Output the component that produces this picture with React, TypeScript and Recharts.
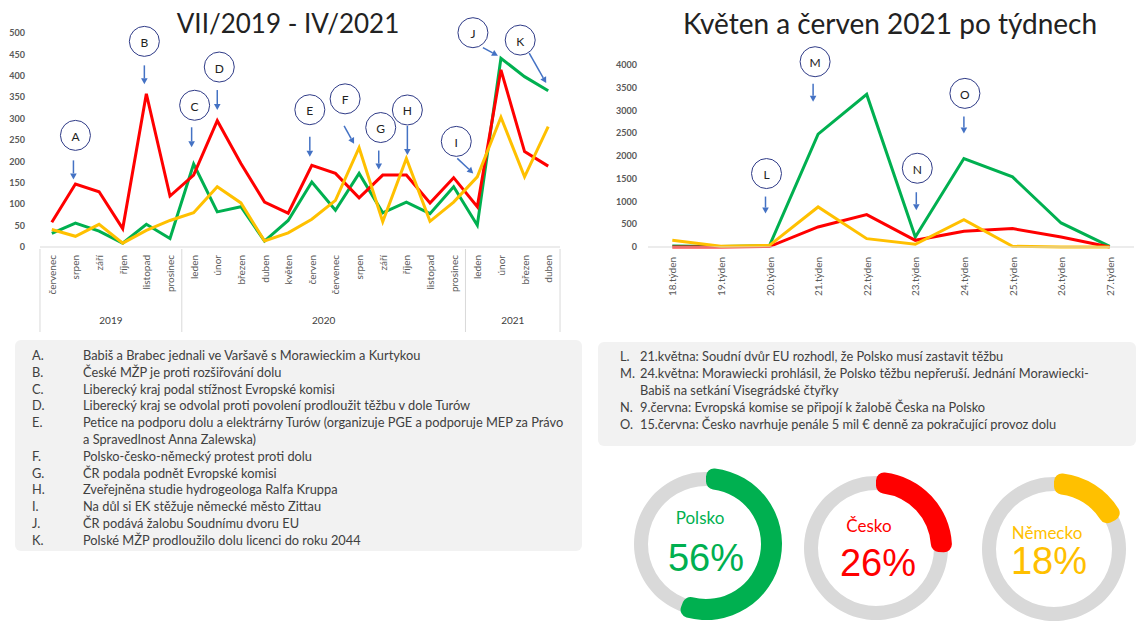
import React from 'react';
import { LineChart, Line, XAxis, YAxis, ReferenceDot, PieChart, Pie, Cell } from 'recharts';

// monthly counts VII/2019 - IV/2021
const months = [
  'červenec', 'srpen', 'září', 'říjen', 'listopad', 'prosinec',
  'leden', 'únor', 'březen', 'duben', 'květen', 'červen', 'červenec', 'srpen', 'září', 'říjen', 'listopad', 'prosinec',
  'leden', 'únor', 'březen', 'duben',
];
const yearGroups = [
  { year: '2019', count: 6 },
  { year: '2020', count: 12 },
  { year: '2021', count: 4 },
];
const polskoMonthly = [32, 56, 37, 9, 53, 20, 194, 82, 94, 14, 62, 152, 86, 172, 80, 105, 78, 141, 51, 441, 398, 365];
const ceskoMonthly = [58, 147, 129, 43, 358, 119, 168, 295, 195, 105, 79, 191, 172, 115, 168, 168, 103, 162, 94, 414, 223, 189];
const nemeckoMonthly = [41, 25, 53, 9, 39, 62, 80, 141, 103, 14, 33, 65, 109, 232, 59, 207, 60, 105, 164, 303, 164, 281];
const monthlyTicks = [0, 50, 100, 150, 200, 250, 300, 350, 400, 450, 500];

// weekly counts May-June 2021
const weeks = ['18.týden', '19.týden', '20.týden', '21.týden', '22.týden', '23.týden', '24.týden', '25.týden', '26.týden', '27.týden'];
const polskoWeekly = [20, 10, 30, 2480, 3354, 220, 1945, 1541, 528, 15];
const ceskoWeekly = [0, 0, 10, 440, 712, 147, 345, 404, 220, 0];
const nemeckoWeekly = [147, 15, 37, 880, 183, 59, 602, 15, 0, 0];
const weeklyTicks = [0, 500, 1000, 1500, 2000, 2500, 3000, 3500, 4000];

// overall share
const countries = ['Polsko', 'Česko', 'Německo'];
const shares = [56, 26, 18];

const monthlyEvents = [
  ['A.', 'Babiš a Brabec jednali ve Varšavě s Morawieckim a Kurtykou'],
  ['B.', 'České MŽP je proti rozšiřování dolu'],
  ['C.', 'Liberecký kraj podal stížnost Evropské komisi'],
  ['D.', 'Liberecký kraj se odvolal proti povolení prodloužit těžbu v dole Turów'],
  ['E.', 'Petice na podporu dolu a elektrárny Turów (organizuje PGE a podporuje MEP za Právo'],
  ['', 'a Spravedlnost Anna Zalewska)'],
  ['F.', 'Polsko-česko-německý protest proti dolu'],
  ['G.', 'ČR podala podnět Evropské komisi'],
  ['H.', 'Zveřejněna studie hydrogeologa Ralfa Kruppa'],
  ['I.', 'Na důl si EK stěžuje německé město Zittau'],
  ['J.', 'ČR podává žalobu Soudnímu dvoru EU'],
  ['K.', 'Polské MŽP prodloužilo dolu licenci do roku 2044'],
];
const weeklyEvents = [
  ['L.', '21.května: Soudní dvůr EU rozhodl, že Polsko musí zastavit těžbu'],
  ['M.', '24.května: Morawiecki prohlásil, že Polsko těžbu nepřeruší. Jednání Morawiecki-'],
  ['', 'Babiš na setkání Visegrádské čtyřky'],
  ['N.', '9.června: Evropská komise se připojí k žalobě Česka na Polsko'],
  ['O.', '15.června: Česko navrhuje penále 5 mil € denně za pokračující provoz dolu'],
];

// event markers: category index, value the arrow points at, and pixel offsets of arrow/circle
const monthlyMarks = [
  { letter: 'A', at: 1, value: 158, dx: -2, sx: 0, sy: -19, ox: 2, oy: -44 },
  { letter: 'B', at: 4, value: 380, dx: -2, sx: 0, sy: -19, ox: 0, oy: -43 },
  { letter: 'C', at: 6, value: 233, dx: -2, sx: 0, sy: -20, ox: 3, oy: -42 },
  { letter: 'D', at: 7, value: 320, dx: 0, sx: 0, sy: -20, ox: 2, oy: -43 },
  { letter: 'E', at: 11, value: 211, dx: -2, sx: 0, sy: -20, ox: 0, oy: -47 },
  { letter: 'F', at: 13, value: 241, dx: -5, sx: -10, sy: -18, ox: -9, oy: -45 },
  { letter: 'G', at: 14, value: 181, dx: -4, sx: 0, sy: -19, ox: 2, oy: -42 },
  { letter: 'H', at: 15, value: 215, dx: 1, sx: 0, sy: -29, ox: 0, oy: -45 },
  { letter: 'I', at: 18, value: 172, dx: -4, sx: -16, sy: -15, ox: -17, oy: -32 },
  { letter: 'J', at: 19, value: 447, dx: -3, sx: -15, sy: -8, ox: -25, oy: -23 },
  { letter: 'K', at: 21, value: 383, dx: -2, sx: -17, sy: -30, ox: -26, oy: -43 },
];
const weeklyMarks = [
  { letter: 'L', at: 2, value: 735, dx: -4, sx: 0, sy: -17, ox: 1, oy: -40 },
  { letter: 'M', at: 3, value: 3193, dx: -5, sx: 0, sy: -18, ox: 2, oy: -40 },
  { letter: 'N', at: 5, value: 808, dx: 1, sx: 0, sy: -18, ox: 1, oy: -42 },
  { letter: 'O', at: 6, value: 2497, dx: 0, sx: 0, sy: -17, ox: 1, oy: -40 },
];

const GREEN = '#00B050';
const RED = '#FF0000';
const YELLOW = '#FFC000';
const shareColors = [GREEN, RED, YELLOW];
const AXIS_TEXT = '#595959';
const BAND = 23.64;

const monthlyData = months.map((m, i) => ({
  key: String(i),
  polsko: polskoMonthly[i],
  cesko: ceskoMonthly[i],
  nemecko: nemeckoMonthly[i],
}));
const weeklyData = weeks.map((w, i) => ({
  week: w,
  polsko: polskoWeekly[i],
  cesko: ceskoWeekly[i],
  nemecko: nemeckoWeekly[i],
}));

const Marker = (props: any) => {
  const { cx, cy, letter, dx, sx, sy, ox, oy } = props;
  if (cx == null || cy == null) return null;
  const tx = cx + dx;
  const ty = cy;
  const x1 = tx + sx;
  const y1 = ty + sy;
  const ang = Math.atan2(ty - y1, tx - x1);
  const hl = 6;
  const hw = 3.3;
  const bx = tx - hl * Math.cos(ang);
  const by = ty - hl * Math.sin(ang);
  const p1 = `${bx + hw * Math.sin(ang)},${by - hw * Math.cos(ang)}`;
  const p2 = `${bx - hw * Math.sin(ang)},${by + hw * Math.cos(ang)}`;
  return (
    <g>
      <line x1={x1} y1={y1} x2={bx} y2={by} stroke="#4472C4" strokeWidth={1.5} />
      <polygon points={`${tx},${ty} ${p1} ${p2}`} fill="#4472C4" />
      <circle cx={tx + ox} cy={ty + oy} r={15} fill="none" stroke="#2F3B87" strokeWidth={1} />
      <text x={tx + ox} y={ty + oy + 1} textAnchor="middle" dominantBaseline="central" fontSize={12} fill="#222">
        {letter}
      </text>
    </g>
  );
};

const MonthTick = (props: any) => {
  const { x, y, payload } = props;
  const i = Number(payload.value);
  let start = 0;
  const extras: React.ReactNode[] = [];
  yearGroups.forEach((g, gi) => {
    if (i === start) {
      extras.push(<line key={`s${gi}`} x1={x - BAND / 2} y1={y} x2={x - BAND / 2} y2={y + 83} stroke="#D9D9D9" />);
    }
    if (i === start + g.count - 1 && gi === yearGroups.length - 1) {
      extras.push(<line key={`e${gi}`} x1={x + BAND / 2} y1={y} x2={x + BAND / 2} y2={y + 83} stroke="#D9D9D9" />);
    }
    if (i === start + Math.floor((g.count - 1) / 2)) {
      const lx = g.count % 2 === 0 ? x + BAND / 2 : x;
      extras.push(
        <text key={`y${gi}`} x={lx} y={y + 71} textAnchor="middle" dominantBaseline="central" fontSize={10} fill="#404040">
          {g.year}
        </text>
      );
    }
    start += g.count;
  });
  return (
    <g>
      <text
        transform={`translate(${x},${y + 6}) rotate(-90)`}
        textAnchor="end"
        dominantBaseline="central"
        fontSize={10}
        fill={AXIS_TEXT}
      >
        {months[i]}
      </text>
      {extras}
    </g>
  );
};

const WeekTick = (props: any) => {
  const { x, y, payload } = props;
  return (
    <text
      transform={`translate(${x},${y + 8}) rotate(-90)`}
      textAnchor="end"
      dominantBaseline="central"
      fontSize={10}
      fill={AXIS_TEXT}
    >
      {payload.value}
    </text>
  );
};

const yTickStyle = { fontSize: 9, fontWeight: 700, fill: AXIS_TEXT };

const donutCenters = [
  { cx: 111, cy: 99 },
  { cx: 281, cy: 103 },
  { cx: 459, cy: 104 },
];
const donutText = [
  { lx: 700, ly: 517, vx: 706, vy: 558 },
  { lx: 869, ly: 525, vx: 878, vy: 563 },
  { lx: 1047, ly: 532, vx: 1049, vy: 561 },
];

const EventBox = ({ rows, left, top, width, height, letterX, textX, lineH, firstY, fontSize }: any) => (
  <div
    style={{
      position: 'absolute',
      left,
      top,
      width,
      height,
      background: '#F2F2F2',
      borderRadius: 6,
    }}
  >
    {rows.map((r: string[], i: number) => (
      <React.Fragment key={i}>
        <div style={{ position: 'absolute', left: letterX, top: firstY + i * lineH - 8, lineHeight: '16px', fontSize, color: '#404040' }}>
          {r[0]}
        </div>
        <div style={{ position: 'absolute', left: textX, top: firstY + i * lineH - 8, lineHeight: '16px', fontSize, color: '#404040', whiteSpace: 'nowrap' }}>
          {r[1]}
        </div>
      </React.Fragment>
    ))}
  </div>
);

export default function App() {
  return (
    <div
      style={{
        position: 'absolute',
        left: 0,
        top: 0,
        width: 1136,
        height: 621,
        background: '#fff',
        overflow: 'hidden',
        fontFamily: 'Lato, sans-serif',
      }}
    >
      <div style={{ position: 'absolute', left: 88, width: 400, top: 6, textAlign: 'center', fontSize: 26, lineHeight: '34px', color: '#222' }}>
        VII/2019 - IV/2021
      </div>
      <div style={{ position: 'absolute', left: 640, width: 500, top: 5, textAlign: 'center', fontSize: 28, lineHeight: '36px', color: '#222' }}>
        Květen a červen 2021 po týdnech
      </div>

      <div style={{ position: 'absolute', left: 0, top: 0 }}>
        <LineChart width={580} height={340} data={monthlyData} margin={{ top: 33, right: 20, bottom: 3, left: 0 }}>
          <XAxis
            dataKey="key"
            scale="point"
            padding={{ left: 11.8, right: 11.8 }}
            interval={0}
            height={90}
            tickLine={false}
            tickSize={0}
            axisLine={{ stroke: '#D9D9D9' }}
            tick={<MonthTick />}
          />
          <YAxis
            domain={[0, 500]}
            ticks={monthlyTicks}
            width={40}
            axisLine={false}
            tickLine={false}
            tickSize={0}
            tickMargin={15}
            tick={yTickStyle}
          />
          <Line dataKey="polsko" name="Polsko" stroke={GREEN} strokeWidth={3} dot={false} isAnimationActive={false} />
          <Line dataKey="cesko" name="Česko" stroke={RED} strokeWidth={3} dot={false} isAnimationActive={false} />
          <Line dataKey="nemecko" name="Německo" stroke={YELLOW} strokeWidth={3} dot={false} isAnimationActive={false} />
          {monthlyMarks.map((m) => (
            <ReferenceDot
              key={m.letter}
              x={String(m.at)}
              y={m.value}
              r={0}
              ifOverflow="visible"
              shape={(p: any) => <Marker {...p} {...m} />}
            />
          ))}
        </LineChart>
      </div>

      <div style={{ position: 'absolute', left: 590, top: 0 }}>
        <LineChart width={546} height={340} data={weeklyData} margin={{ top: 65, right: 2, bottom: 33, left: 0 }}>
          <XAxis
            dataKey="week"
            scale="point"
            padding={{ left: 24.3, right: 24.3 }}
            interval={0}
            height={60}
            tickLine={false}
            tickSize={0}
            axisLine={{ stroke: '#D9D9D9' }}
            tick={<WeekTick />}
          />
          <YAxis
            domain={[0, 4000]}
            ticks={weeklyTicks}
            width={58}
            axisLine={false}
            tickLine={false}
            tickSize={0}
            tickMargin={11}
            tick={yTickStyle}
          />
          <Line dataKey="polsko" name="Polsko" stroke={GREEN} strokeWidth={3} dot={false} isAnimationActive={false} />
          <Line dataKey="cesko" name="Česko" stroke={RED} strokeWidth={3} dot={false} isAnimationActive={false} />
          <Line dataKey="nemecko" name="Německo" stroke={YELLOW} strokeWidth={3} dot={false} isAnimationActive={false} />
          {weeklyMarks.map((m) => (
            <ReferenceDot
              key={m.letter}
              x={weeks[m.at]}
              y={m.value}
              r={0}
              ifOverflow="visible"
              shape={(p: any) => <Marker {...p} {...m} />}
            />
          ))}
        </LineChart>
      </div>

      <EventBox rows={monthlyEvents} left={15} top={340} width={567} height={211} letterX={17} textX={68} lineH={16.8} firstY={15} fontSize={12.8} />
      <EventBox rows={weeklyEvents} left={598} top={342} width={538} height={104} letterX={22} textX={42} lineH={17} firstY={14} fontSize={12.8} />

      <div style={{ position: 'absolute', left: 590, top: 440 }}>
        <PieChart width={546} height={181}>
          {countries.map((c, i) => (
            <Pie
              key={`bg-${c}`}
              data={[{ name: c, value: 1 }]}
              dataKey="value"
              cx={donutCenters[i].cx}
              cy={donutCenters[i].cy}
              innerRadius={58}
              outerRadius={72}
              startAngle={90}
              endAngle={-270}
              fill="#D9D9D9"
              stroke="none"
              isAnimationActive={false}
            />
          ))}
          {countries.map((c, i) => (
            <Pie
              key={`fg-${c}`}
              data={[
                { name: c, value: shares[i] },
                { name: 'rest', value: 100 - shares[i] },
              ]}
              dataKey="value"
              cx={donutCenters[i].cx}
              cy={donutCenters[i].cy}
              innerRadius={55}
              outerRadius={76}
              startAngle={90}
              endAngle={-270}
              cornerRadius={8}
              stroke="none"
              isAnimationActive={false}
            >
              <Cell fill={shareColors[i]} />
              <Cell fill="transparent" />
            </Pie>
          ))}
        </PieChart>
      </div>

      {countries.map((c, i) => (
        <React.Fragment key={`t-${c}`}>
          <div
            style={{
              position: 'absolute',
              left: donutText[i].lx,
              top: donutText[i].ly,
              transform: 'translate(-50%, -50%)',
              fontSize: 17,
              lineHeight: 1,
              color: shareColors[i],
              whiteSpace: 'nowrap',
            }}
          >
            {c}
          </div>
          <div
            style={{
              position: 'absolute',
              left: donutText[i].vx,
              top: donutText[i].vy,
              transform: 'translate(-50%, -50%)',
              fontSize: 38,
              lineHeight: 1,
              fontFamily: '"Liberation Sans", Arial, sans-serif',
              color: shareColors[i],
              whiteSpace: 'nowrap',
            }}
          >
            {shares[i]}%
          </div>
        </React.Fragment>
      ))}
    </div>
  );
}
